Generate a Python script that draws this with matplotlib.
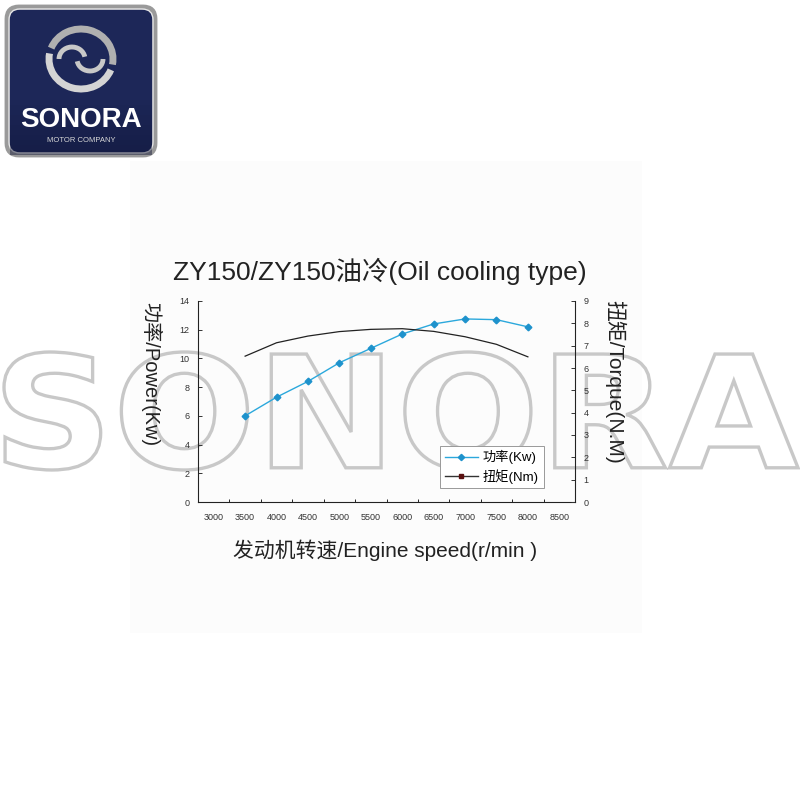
import matplotlib
matplotlib.use("Agg")
import matplotlib.pyplot as plt
from matplotlib.patches import FancyBboxPatch, Rectangle, PathPatch, Arc
from matplotlib.textpath import TextPath
from matplotlib.font_manager import FontProperties
from matplotlib.transforms import Affine2D
from matplotlib.lines import Line2D

plt.rcParams["font.family"] = ["Liberation Sans", "Noto Sans CJK SC", "DejaVu Sans"]

# data
speed_labels = ["3000", "3500", "4000", "4500", "5000", "5500",
                "6000", "6500", "7000", "7500", "8000", "8500"]
speed = ["3500", "4000", "4500", "5000", "5500", "6000", "6500", "7000", "7500", "8000"]
power_kw = [6.0, 7.3, 8.4, 9.7, 10.7, 11.7, 12.4, 12.75, 12.7, 12.2]
torque_nm = [6.53, 7.13, 7.43, 7.63, 7.73, 7.76, 7.64, 7.40, 7.06, 6.50]
power_ticks = [0, 2, 4, 6, 8, 10, 12, 14]
torque_ticks = [0, 1, 2, 3, 4, 5, 6, 7, 8, 9]

fig = plt.figure(figsize=(8, 8), dpi=100)

# pixel canvas behind everything (logo, light panel)
bg = fig.add_axes([0, 0, 1, 1], zorder=-5)
bg.set_xlim(0, 800)
bg.set_ylim(800, 0)
bg.axis("off")
bg.add_patch(Rectangle((130, 161), 512, 472, facecolor="#fcfcfc", edgecolor="none"))

# logo
bg.add_patch(FancyBboxPatch((7, 7), 148, 148, boxstyle="round,pad=0,rounding_size=12",
                            facecolor="#1d2758", edgecolor="#9a9a9a", linewidth=3.5))
bg.add_patch(FancyBboxPatch((9, 9), 144, 144, boxstyle="round,pad=0,rounding_size=11",
                            facecolor="none", edgecolor="#e6e6e6", linewidth=1))
for i in range(12):
    bg.add_patch(Rectangle((10, 95 + i * 5), 142, 5, facecolor="#0c1130",
                           edgecolor="none", alpha=0.04 * i))
bg.add_patch(Arc((81, 59), 64, 60, theta1=20, theta2=190, color="#d4d4d4", lw=5))
bg.add_patch(Arc((81, 59), 64, 60, theta1=200, theta2=370, color="#b0b0b0", lw=5))
bg.add_patch(Arc((72, 59), 26, 24, theta1=180, theta2=350, color="#c8c8c8", lw=3.5))
bg.add_patch(Arc((90, 59), 26, 24, theta1=0, theta2=170, color="#c8c8c8", lw=3.5))
bg.text(81, 120, "SONORA", color="white", fontsize=20, fontweight="bold",
        ha="center", va="center", family="Liberation Sans")
bg.text(81, 140, "MOTOR COMPANY", color="#d8d8d8", fontsize=5.5,
        ha="center", va="center", family="Liberation Sans")

# outlined watermark, under the chart but over the panel
wm = fig.add_axes([0, 0, 1, 1], zorder=-1)
wm.set_xlim(0, 800)
wm.set_ylim(800, 0)
wm.axis("off")
wm.patch.set_alpha(0)
tp = TextPath((0, 0), "SONORA", prop=FontProperties(family="DejaVu Sans", weight="bold"))
ext = tp.get_extents()
sx = (798 - 4) / ext.width
sy = (470 - 352) / ext.height
tr = Affine2D().translate(-ext.x0, -ext.y0).scale(sx, -sy).translate(4, 470)
wm.add_patch(PathPatch(tr.transform_path(tp), facecolor="none", edgecolor="#c8c8c8",
                       linewidth=2.4))

# chart
ax = fig.add_axes([0.2475, 0.3725, 0.47125, 0.25125])
ax.set_facecolor("none")
xpos = [speed_labels.index(s) for s in speed]
ax.plot(xpos, power_kw, color="#2ba8dc", lw=1.0, marker="D", markersize=3.4,
        markerfacecolor="#1e92cc", markeredgecolor="#1e92cc", zorder=3)
ax.set_xlim(-0.5, len(speed_labels) - 0.5)
ax.set_ylim(0, 14)
ax.set_yticks(power_ticks)
ax.set_xticks(range(len(speed_labels)))
ax.set_xticklabels(speed_labels)
ax.set_xticks([i + 0.5 for i in range(len(speed_labels) - 1)], minor=True)
ax.tick_params(axis="x", which="major", length=0, labelsize=6.5, pad=8, colors="#333333")
ax.tick_params(axis="x", which="minor", direction="in", length=2.5, width=0.6)
ax.tick_params(axis="y", direction="in", length=3, width=0.7, labelsize=6.5, pad=6,
               colors="#333333")
for side in ["top", "right"]:
    ax.spines[side].set_visible(False)
for side in ["left", "bottom"]:
    ax.spines[side].set_linewidth(0.8)
    ax.spines[side].set_color("#222222")

ax2 = ax.twinx()
ax2.plot(xpos, torque_nm, color="#222222", lw=0.9, zorder=2)
ax2.set_ylim(0, 9)
ax2.set_yticks(torque_ticks)
ax2.tick_params(axis="y", direction="in", length=3, width=0.7, labelsize=6.5, pad=6,
                colors="#333333")
for side in ["top", "left", "bottom"]:
    ax2.spines[side].set_visible(False)
ax2.spines["right"].set_linewidth(0.8)
ax2.spines["right"].set_color("#222222")

handles = [
    Line2D([], [], color="#2ba8dc", lw=1.0, marker="D", markersize=3.2,
           markerfacecolor="#1e92cc", markeredgecolor="#1e92cc"),
    Line2D([], [], color="#333333", lw=1.0, marker="s", markersize=3.2,
           markerfacecolor="#5a1010", markeredgecolor="#5a1010"),
]
leg = ax2.legend(handles, ["功率(Kw)", "扭矩(Nm)"], loc="lower left",
                 bbox_to_anchor=(0.642, 0.068), borderaxespad=0, fontsize=9.5,
                 fancybox=False, handlelength=2.5, handletextpad=0.4,
                 labelspacing=0.35, borderpad=0.35, framealpha=1, edgecolor="#999999")
leg.get_frame().set_linewidth(0.7)
leg.set_zorder(4)

fig.text(380 / 800, 1 - 271 / 800, "ZY150/ZY150油冷(Oil cooling type)", fontsize=19,
         ha="center", va="center", color="#222222")
fig.text(151 / 800, 1 - 374 / 800, "功率/Power(Kw)", fontsize=14.5, rotation=270,
         ha="center", va="center", color="#222222")
fig.text(615 / 800, 1 - 382 / 800, "扭矩/Torque(N.M)", fontsize=15, rotation=270,
         ha="center", va="center", color="#222222")
fig.text(385 / 800, 1 - 550 / 800, "发动机转速/Engine speed(r/min )", fontsize=15,
         ha="center", va="center", color="#222222")

fig.savefig("out.png", dpi=100, facecolor="white")
